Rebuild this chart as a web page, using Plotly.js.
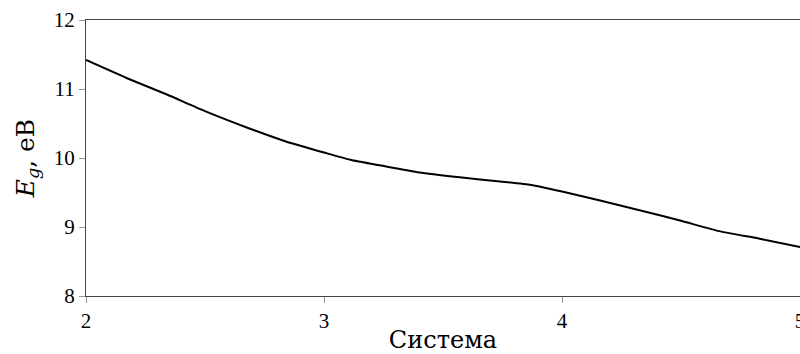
<!DOCTYPE html>
<html>
<head>
<meta charset="utf-8">
<script src="https://cdn.plot.ly/plotly-3.0.1.min.js"></script>
<style>html,body{margin:0;padding:0;background:#fff;}#chart{width:800px;height:354px;}</style>
</head>
<body>
<div id="chart"></div>
<script>
const systemX = [2.0, 2.17, 2.34, 2.50, 2.67, 2.84, 3.0, 3.11, 3.24, 3.40, 3.57, 3.74, 3.87, 4.0, 4.16, 4.33, 4.50, 4.66, 4.83, 5.0];
const bandGap = [11.42, 11.16, 10.92, 10.68, 10.45, 10.24, 10.08, 9.975, 9.89, 9.79, 9.72, 9.66, 9.61, 9.515, 9.385, 9.24, 9.09, 8.94, 8.83, 8.71];
const xTicks = [2, 3, 4, 5];
const yTicks = [8, 9, 10, 11, 12];

const trace = {
  x: systemX, y: bandGap, type: 'scatter', mode: 'lines',
  line: {color: '#000', width: 2, shape: 'spline', smoothing: 0.5},
  hoverinfo: 'skip'
};
const tickSerif = "Liberation Serif";
const titleSerif = "DejaVu Serif";
const layout = {
  width: 800, height: 354,
  margin: {l: 86, r: 0, t: 20, b: 58},
  paper_bgcolor: '#fff', plot_bgcolor: '#fff',
  showlegend: false,
  font: {family: tickSerif, color: '#000', size: 21},
  xaxis: {
    range: [2, 5], tickmode: 'array', tickvals: xTicks,
    showgrid: false, zeroline: false, showline: true, mirror: true,
    linecolor: '#444', linewidth: 1,
    ticks: 'outside', ticklen: 6, tickcolor: '#999', tickwidth: 1,
    ticklabeloverflow: 'allow',
    tickfont: {family: tickSerif, size: 21, color: '#000'},
    title: {text: 'Система', font: {family: titleSerif, size: 24, color: '#000'}, standoff: 2}
  },
  yaxis: {
    range: [8, 12], tickmode: 'array', tickvals: yTicks,
    showgrid: false, zeroline: false, showline: true, mirror: true,
    linecolor: '#444', linewidth: 1,
    ticks: 'outside', ticklen: 6, tickcolor: '#999', tickwidth: 1,
    tickfont: {family: tickSerif, size: 21, color: '#000'},
    title: {text: '<i>E</i><sub><i>g</i></sub>, еВ', font: {family: titleSerif, size: 25, color: '#000'}, standoff: 12}
  }
};
Plotly.newPlot('chart', [trace], layout, {displayModeBar: false});
</script>
</body>
</html>
